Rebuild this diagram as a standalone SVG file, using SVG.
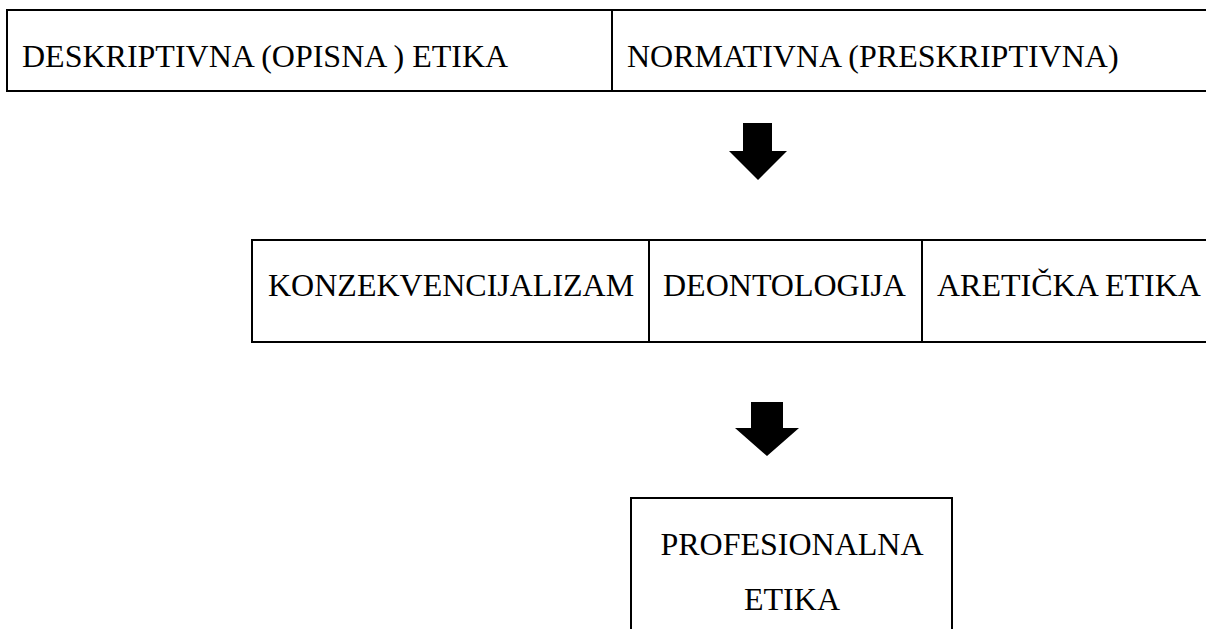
<svg xmlns="http://www.w3.org/2000/svg" width="1206" height="629" viewBox="0 0 1206 629">
<style>
.box{fill:none;stroke:#000;stroke-width:2}
.t{font-family:"Liberation Serif","Times New Roman",serif;font-size:32px;fill:#000}
.arrow{fill:#000}
</style>
<rect width="1206" height="629" fill="#fff"/>
<g id="descriptive">
<path class="box" d="M1206,10 H7 V91 H1206"/>
<line class="box" x1="612" y1="10" x2="612" y2="91"/>
<text class="t" x="22" y="67">DESKRIPTIVNA (OPISNA ) ETIKA</text>
</g>
<g id="normative">
<text class="t" x="627" y="67">NORMATIVNA (PRESKRIPTIVNA)</text>
</g>
<g id="connectors">
<polygon class="arrow" points="743,123 772,123 772,151 787,151 758,180 729,151 743,151"/>
<polygon class="arrow" points="751,402 783,402 783,428 799,428 767,456 735,428 751,428"/>
</g>
<g id="middle">
<path class="box" d="M1206,240 H252 V342 H1206"/>
<line class="box" x1="649" y1="240" x2="649" y2="342"/>
<line class="box" x1="922" y1="240" x2="922" y2="342"/>
</g>
<g id="konzekvencijalizam"><text class="t" x="268" y="296">KONZEKVENCIJALIZAM</text></g>
<g id="deontologija"><text class="t" x="663" y="296">DEONTOLOGIJA</text></g>
<g id="areticka"><text class="t" x="937" y="296">ARETIČKA ETIKA</text></g>
<g id="profesionalna">
<path class="box" d="M631,629 V498 H952 V629"/>
<text class="t" x="792" y="555" text-anchor="middle">PROFESIONALNA</text>
<text class="t" x="792" y="610" text-anchor="middle">ETIKA</text>
</g>
</svg>
